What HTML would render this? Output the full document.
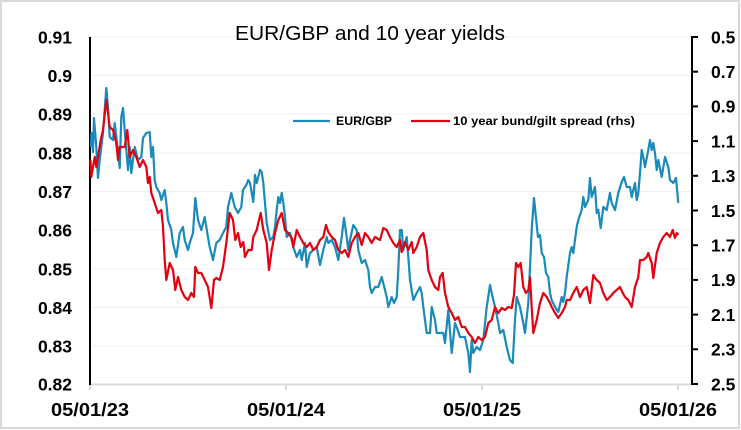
<!DOCTYPE html>
<html>
<head>
<meta charset="utf-8">
<style>
html,body{margin:0;padding:0;background:#fff;}
svg{display:block;}
text{font-family:"Liberation Sans",sans-serif;fill:#000;}
.t{font-weight:bold;font-size:17.5px;}
.x{font-weight:bold;font-size:18px;}
.lg{font-weight:bold;font-size:12px;}
</style>
</head>
<body>
<svg width="741" height="430" viewBox="0 0 741 430" xmlns="http://www.w3.org/2000/svg">
<rect x="0" y="0" width="741" height="430" fill="#fff"/>
<rect x="1" y="1" width="738" height="427" fill="none" stroke="#d9d9d9" stroke-width="2"/>
<!-- gridlines -->
<g stroke="#efefef" stroke-width="1">
<line x1="91" y1="37" x2="692" y2="37"/>
<line x1="91" y1="75.5" x2="692" y2="75.5"/>
<line x1="91" y1="114" x2="692" y2="114"/>
<line x1="91" y1="153" x2="692" y2="153"/>
<line x1="91" y1="191.5" x2="692" y2="191.5"/>
<line x1="91" y1="230" x2="692" y2="230"/>
<line x1="91" y1="269" x2="692" y2="269"/>
<line x1="91" y1="307.5" x2="692" y2="307.5"/>
<line x1="91" y1="346" x2="692" y2="346"/>
</g>
<!-- bottom axis -->
<g stroke="#d9d9d9" stroke-width="2">
<line x1="90" y1="384.5" x2="692" y2="384.5"/>
<line x1="90" y1="384" x2="90" y2="390"/>
<line x1="286" y1="384" x2="286" y2="390"/>
<line x1="482" y1="384" x2="482" y2="390"/>
<line x1="678" y1="384" x2="678" y2="390"/>
</g>
<!-- left axis -->
<line x1="90" y1="37" x2="90" y2="385" stroke="#000" stroke-width="2"/>
<!-- right axis -->
<g stroke="#000" stroke-width="2">
<line x1="692" y1="36" x2="692" y2="385"/>
<line x1="692" y1="37" x2="698" y2="37"/>
<line x1="692" y1="71.7" x2="698" y2="71.7"/>
<line x1="692" y1="106.4" x2="698" y2="106.4"/>
<line x1="692" y1="141.1" x2="698" y2="141.1"/>
<line x1="692" y1="175.8" x2="698" y2="175.8"/>
<line x1="692" y1="210.5" x2="698" y2="210.5"/>
<line x1="692" y1="245.2" x2="698" y2="245.2"/>
<line x1="692" y1="279.9" x2="698" y2="279.9"/>
<line x1="692" y1="314.6" x2="698" y2="314.6"/>
<line x1="692" y1="349.3" x2="698" y2="349.3"/>
<line x1="692" y1="384" x2="698" y2="384"/>
</g>
<!-- left labels -->
<g class="t" text-anchor="end">
<text class="t" x="72" y="43.3">0.91</text>
<text class="t" x="72" y="81.8">0.9</text>
<text class="t" x="72" y="120.3">0.89</text>
<text class="t" x="72" y="159.3">0.88</text>
<text class="t" x="72" y="197.8">0.87</text>
<text class="t" x="72" y="236.3">0.86</text>
<text class="t" x="72" y="275.3">0.85</text>
<text class="t" x="72" y="313.8">0.84</text>
<text class="t" x="72" y="352.3">0.83</text>
<text class="t" x="72" y="390.3">0.82</text>
</g>
<!-- right labels -->
<g>
<text class="t" x="711" y="43.3">0.5</text>
<text class="t" x="711" y="78">0.7</text>
<text class="t" x="711" y="112.7">0.9</text>
<text class="t" x="711" y="147.4">1.1</text>
<text class="t" x="711" y="182.1">1.3</text>
<text class="t" x="711" y="216.8">1.5</text>
<text class="t" x="711" y="251.5">1.7</text>
<text class="t" x="711" y="286.2">1.9</text>
<text class="t" x="711" y="320.9">2.1</text>
<text class="t" x="711" y="355.6">2.3</text>
<text class="t" x="711" y="390.3">2.5</text>
</g>
<!-- x labels -->
<text class="x" x="90" y="416" text-anchor="middle" textLength="78" lengthAdjust="spacingAndGlyphs">05/01/23</text>
<text class="x" x="286" y="416" text-anchor="middle" textLength="78" lengthAdjust="spacingAndGlyphs">05/01/24</text>
<text class="x" x="482" y="416" text-anchor="middle" textLength="78" lengthAdjust="spacingAndGlyphs">05/01/25</text>
<text class="x" x="678" y="416" text-anchor="middle" textLength="78" lengthAdjust="spacingAndGlyphs">05/01/26</text>
<!-- title -->
<text x="235" y="40" font-size="20.5" textLength="270" lengthAdjust="spacingAndGlyphs">EUR/GBP and 10 year yields</text>
<!-- legend -->
<line x1="293" y1="121" x2="330" y2="121" stroke="#1a8abb" stroke-width="2.2"/>
<text class="lg" x="336" y="125" textLength="56" lengthAdjust="spacingAndGlyphs">EUR/GBP</text>
<line x1="411" y1="121" x2="450" y2="121" stroke="#e3000f" stroke-width="2.2"/>
<text class="lg" x="453" y="125" textLength="182" lengthAdjust="spacingAndGlyphs">10 year bund/gilt spread (rhs)</text>
<!-- series -->
<polyline fill="none" stroke="#1a8abb" stroke-width="2.2" stroke-linejoin="round" points="91,147 91.5,133 93,152 94,118 96.3,147 98,178 99.7,160 103,133 106.3,88 108,107 109.7,137 113,140 114.7,123 116.3,137 119.7,168 121.3,117 123,108 124.7,130 128,170 129.7,147 131.3,173 134.7,147 138,160 141.3,157 143,138 146.3,133 149.7,132 151.3,157 153,147 154.7,180 156.3,187 159.7,193 161.3,200 164.7,190 166.3,203 168,220 171.3,230 173,243 176.3,257 179.7,233 183,227 184.7,240 188,250 189.7,243 193,233 195.3,198 198,220 201.3,230 204.7,217 206.3,227 209.7,247 213,260 216.3,243 219.7,240 223,233 226.3,227 228,207 231.3,193 234.7,207 238,213 241.3,207 243,190 246.3,185 248.3,180 250,183 251.7,193 253.3,202 255,175 256.7,183 260,170 261.7,172 263.3,183 265,203 266.7,223 270,240 273.3,237 275,227 276.7,210 278.3,197 280,203 281.7,193 283.3,203 285,217 286.7,237 290,233 293.3,247 296.7,257 300,250 301.7,260 305,243 306.7,267 310,253 313.3,250 316.7,247 320,265 323.3,250 326.7,237 328.3,243 331.7,240 335,247 338.3,260 341.7,237 344,218 346.7,237 348.3,250 350,240 353.3,225 356.7,230 358.3,250 361.7,263 365,260 368.3,270 370,287 371.7,293 375,287 378.3,287 381.7,277 385,290 386.7,297 388.3,307 391.7,297 394,303 396.7,297 398.3,270 400,230 401.7,230 403.3,250 406.7,237 408.3,257 410,280 413.3,300 416.7,293 420,287 421.7,293 423.3,307 426.7,333 430,333 431.7,307 435,320 436.7,333 440,333 443.3,333 445,343 448.3,310 451.7,353 455,323 456.7,327 460,337 465,337 468.3,353 470,372 471.7,340 473.3,353 476.7,347 480,350 483.3,340 486.7,307 490,285 491.7,293 495,307 498.3,323 500,333 503.3,330 506.7,347 510,360 512.7,363 515,320 516.7,297 520,307 523.3,323 525,333 528.3,303 530,267 531.7,230 534,198 536.7,225 538,237 540,235 541.7,253 544,257 546,273 548.3,277 550,293 551.7,300 555,307 558.3,312 561.7,297 563.3,302 565,293 566.7,277 570,253 571.7,247 573.3,253 576.7,227 578.3,220 581.7,210 583.3,197 585,207 588.3,200 590,178 591.7,197 595,187 596.7,213 598.3,210 600.7,228 603.3,207 606.7,210 610,193 611.7,203 615,210 618.3,193 621.7,182 624,177 626.7,187 630,187 631.7,197 635,183 636.7,200 638.3,193 640,173 641.7,150 643.3,157 645,167 648.3,150 650,140 651.7,150 653.3,143 655,153 656.7,170 658.3,160 661.7,177 665,157 668.3,167 670,180 673.3,183 676,178 678.3,203"/>
<polyline fill="none" stroke="#e3000f" stroke-width="2.2" stroke-linejoin="round" points="90.5,160 91.3,177 94.7,157 96.3,167 98,157 100.7,140 103,130 106.3,100 108,113 109.7,127 113,130 116.3,143 118,160 119.7,147 124.7,147 127.3,130 129.7,157 133,150 136.3,157 139.7,167 143,160 146.3,167 148,183 149.7,177 151.3,193 154.7,203 158,213 161.3,210 163,227 164.7,260 166.3,280 169.7,263 173,270 175.3,290 178,277 181.3,290 184.7,297 188,300 191.3,293 194,297 195.3,267 198,273 201.3,273 204.7,280 208,287 211.3,308 214,280 216.3,278 219.7,280 223,267 226.3,243 229.7,213 233,220 235.3,240 238,233 240.7,247 243.3,242 245,257 248.3,250 251.7,250 253.3,237 256.7,230 258.3,223 260.7,213 263.3,230 266.7,243 269,270 271.7,250 275,233 278.3,220 281.7,213 285,230 288.3,233 291.7,238 293.3,247 296.7,230 300,237 303.3,243 306.7,247 310,243 313.3,250 316.7,247 320,240 323.3,237 326,225 328.3,232 331.7,237 335,240 338.3,250 341.7,253 345,250 348.3,257 351.7,243 355,237 358.3,233 361.7,245 365,233 368.3,237 371.7,243 375,237 380,240 383.3,228 386.7,230 390,237 393.3,243 396.7,247 400,240 401.7,252 405,242 408.3,250 411.7,242 413.3,253 416.7,247 420,237 423.3,233 426.7,250 428.3,270 431.7,280 435,287 438.3,290 440,277 442.7,273 445,293 448.3,307 451.7,313 455,320 458.3,317 461.7,327 465,327 468.3,333 471.7,337 475,343 478.3,337 481.7,340 485,337 488.3,323 491.7,320 495,307 498.3,313 501.7,308 505,310 508.3,307 511.7,308 514,295 516,263 518.3,267 520.7,263 523.3,287 526,293 528.3,290 530,277 531.7,307 533.3,333 536.7,320 540,303 543.3,293 546.7,297 550,303 551.7,307 555,313 558.3,318 561.7,313 565,307 566.7,300 570,300 573.3,293 576.7,287 580,297 583.3,290 586.7,287 590,303 593.3,275 596.7,280 600,283 603.3,293 606.7,300 610,297 613.3,293 616.7,290 620,287 622.7,293 625,297 628.3,300 631.7,307 635,287 638.3,277 640,260 643.3,260 646.7,257 648.3,253 651.7,263 653.3,278 656.7,253 660,243 663.3,237 666.7,233 670,237 672.7,230 675,238 676.7,233 678.3,235"/>
</svg>
</body>
</html>
